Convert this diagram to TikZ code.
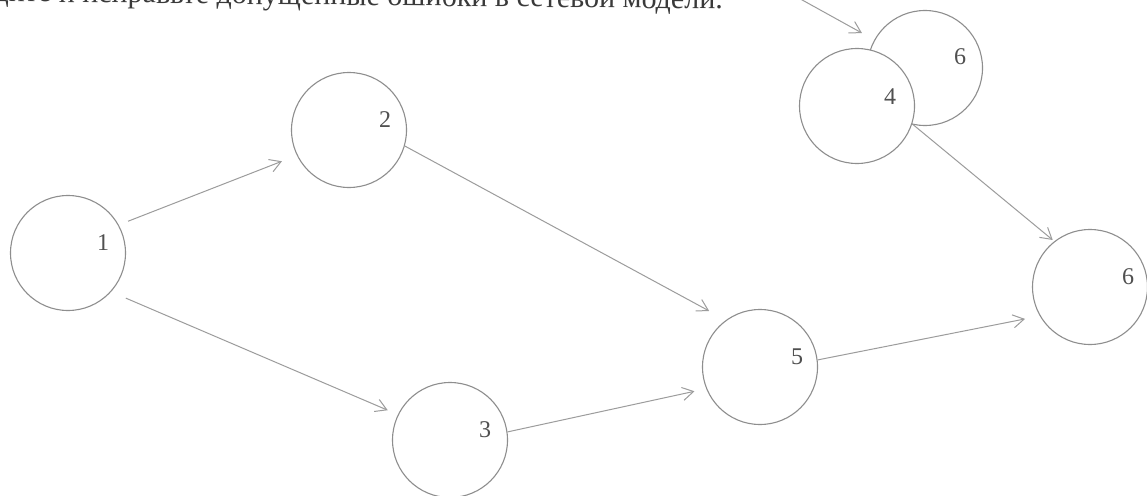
\documentclass[tikz,border=0pt]{standalone}
\usepackage{fontspec}
\setmainfont{Liberation Serif}
\usetikzlibrary{arrows.meta,calc}
\definecolor{ringc}{HTML}{8E8E8E}
\definecolor{linec}{HTML}{9C9C9C}
\definecolor{numc}{HTML}{505050}
\definecolor{headc}{HTML}{3A3A3A}
\tikzset{
  ev/.style={circle, draw=ringc, line width=1.1pt, fill=white, minimum size=115pt, inner sep=0pt},
  num/.style={text=numc, font=\fontsize{24}{26}\selectfont, inner sep=0pt},
  arr/.style={draw=linec, line width=1pt, -{Straight Barb[length=11pt,width=13pt]}},
}
\begin{document}
\begin{tikzpicture}[x=1pt,y=-1pt]
\useasboundingbox (0,0) rectangle (1147,495);
\fill[white] (0,0) rectangle (1147,495);
% heading (cut by the top edge)
\node[anchor=base east, text=headc, font=\fontsize{30}{32}\selectfont, inner sep=0pt, rotate=-0.6] (head) at (723,9) {Найдите и исправьте допущенные ошибки в сетевой модели.};
% events
\node[ev] (n1) at (68,253) {};
\node[ev] (n2) at (349,130) {};
\node[ev] (n3) at (450,440) {};
\node[ev] (n6t) at (925,68) {};
\node[ev] (n4) at (857,106) {};
\node[ev] (n5) at (760,367) {};
\node[ev] (n6) at (1090,287) {};
% numbers
\node[num] (l1) at ($(n1)+(35,-10)$) {1};
\node[num] (l2) at ($(n2)+(36,-10)$) {2};
\node[num] (l3) at ($(n3)+(35,-10)$) {3};
\node[num] (l4) at ($(n4)+(33,-9)$) {4};
\node[num] (l5) at ($(n5)+(37,-10)$) {5};
\node[num] (l6t) at ($(n6t)+(35,-11)$) {6};
\node[num] (l6) at ($(n6)+(38,-10)$) {6};
% works
\draw[arr, shorten <=10pt, shorten >=16pt] (n1.29) -- (n2.206);
\draw[arr, shorten <=16pt, shorten >=11pt] (n1.-42) -- (n3.154);
\draw[arr, shorten >=19pt] (n2.-16) -- (n5.126);
\draw[arr, shorten >=12pt] (n3.8) -- (n5.202);
\draw[arr, shorten >=15pt] (n5.7) -- (n6.210);
\draw[arr, shorten >=2pt] (n4.-18) -- (n6.128);
\coordinate (top) at (795,-4);
\draw[arr, shorten >=14pt] (top) -- (n6t.151);
\end{tikzpicture}
\end{document}
